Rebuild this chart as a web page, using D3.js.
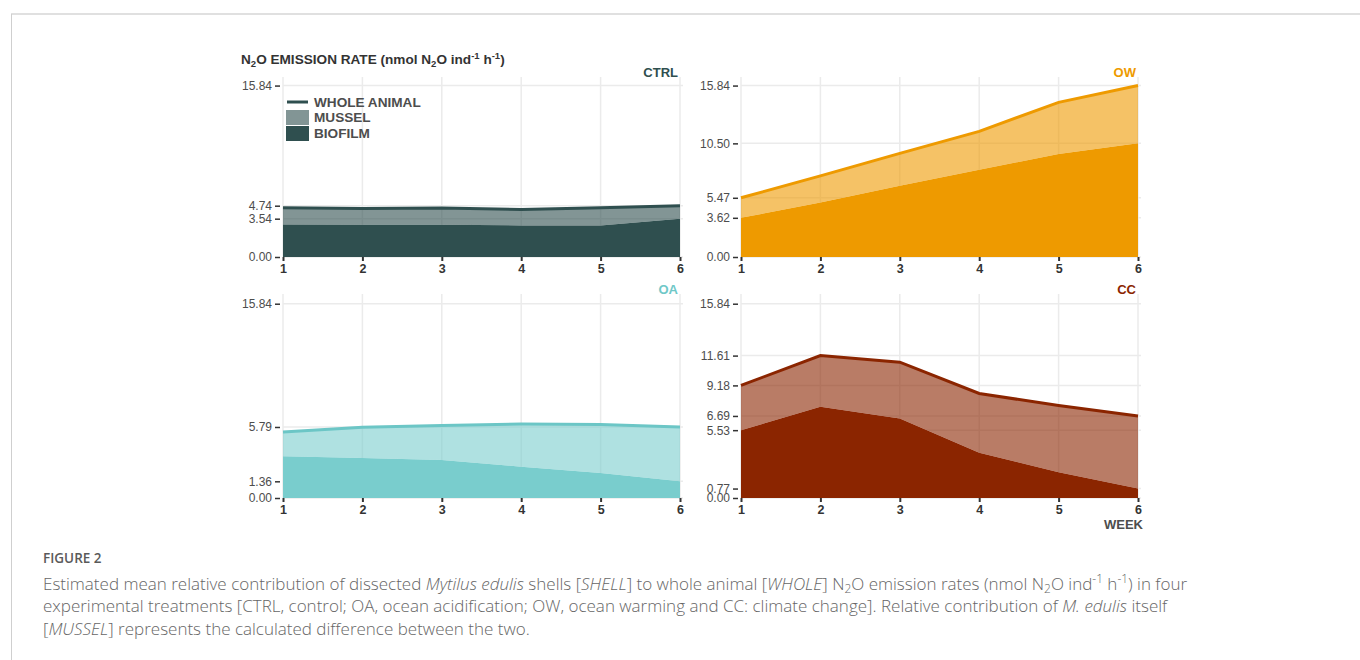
<!DOCTYPE html>
<html lang="en">
<head>
<meta charset="utf-8">
<title>N2O emission rates</title>
<style>
  body { margin: 0; background: #fff; }
</style>
</head>
<body>
<svg id="chart" width="1360" height="660"></svg>
<script src="https://cdn.jsdelivr.net/npm/d3@7"></script>
<script>
// data (nmol N2O ind-1 h-1)
const weeks = [1, 2, 3, 4, 5, 6];
const treatments = ["CTRL", "OW", "OA", "CC"];
const colors = ["#2F4F4F", "#EE9A00", "#79CDCD", "#8B2500"];

const wholeCTRL   = [4.56, 4.47, 4.53, 4.40, 4.55, 4.74];
const biofilmCTRL = [3.01, 2.99, 2.98, 2.92, 2.92, 3.54];
const wholeOW     = [5.47, 7.50, 9.57, 11.61, 14.29, 15.84];
const biofilmOW   = [3.62, 5.03, 6.58, 8.06, 9.51, 10.50];
const wholeOA     = [5.38, 5.76, 5.92, 6.03, 6.00, 5.79];
const biofilmOA   = [3.40, 3.26, 3.10, 2.55, 2.04, 1.36];
const wholeCC     = [9.18, 11.61, 11.07, 8.52, 7.54, 6.69];
const biofilmCC   = [5.53, 7.43, 6.48, 3.69, 2.10, 0.77];

const ticksCTRL = [0, 3.54, 4.74, 15.84];
const ticksOW   = [0, 3.62, 5.47, 10.50, 15.84];
const ticksOA   = [0, 1.36, 5.79, 15.84];
const ticksCC   = [0, 0.77, 5.53, 6.69, 9.18, 11.61, 15.84];

const legendLabels = ["WHOLE ANIMAL", "MUSSEL", "BIOFILM"];
const yMax = 15.84;

const wholes = [wholeCTRL, wholeOW, wholeOA, wholeCC];
const biofilms = [biofilmCTRL, biofilmOW, biofilmOA, biofilmCC];
const tickSets = [ticksCTRL, ticksOW, ticksOA, ticksCC];

// panel boxes: left, right, top, bottom
const boxes = [
  [283, 680, 77, 257],
  [741, 1138, 77, 257],
  [283, 680, 294, 498],
  [741, 1138, 294, 498]
];

const font = "'Liberation Sans', Arial, Helvetica, sans-serif";
const svg = d3.select("#chart");

// frame of the figure box
svg.append("line").attr("x1", 11).attr("x2", 1360).attr("y1", 14).attr("y2", 14)
  .attr("stroke", "#e0e0e0").attr("stroke-width", 2);
svg.append("line").attr("x1", 11.5).attr("x2", 11.5).attr("y1", 14).attr("y2", 660)
  .attr("stroke", "#cfcfcf").attr("stroke-width", 1);

// text with sub/superscripts and italics
function richText(sel, segs, size) {
  let shift = 0;
  segs.forEach(s => {
    let target = s.sub ? size * 0.22 : s.sup ? -size * 0.36 : 0;
    let ts = sel.append("tspan").text(s.t)
      .attr("dy", target - shift)
      .attr("font-size", (s.sub || s.sup) ? size * 0.7 : size);
    if (s.i) ts.attr("font-style", "italic");
    shift = target;
  });
}

treatments.forEach((name, k) => {
  let [x0, x1, y0, y1] = boxes[k];
  let x = d3.scaleLinear().domain([1, 6]).range([x0, x1]);
  let y = d3.scaleLinear().domain([0, yMax * 1.05]).range([y1, y0]);
  let g = svg.append("g");

  let rows = weeks.map((w, i) => ({ w: w, whole: wholes[k][i], bio: biofilms[k][i] }));

  // grid
  g.selectAll(".vg").data(weeks).enter().append("line")
    .attr("x1", d => x(d)).attr("x2", d => x(d)).attr("y1", y0).attr("y2", y1)
    .attr("stroke", "#ebebeb").attr("stroke-width", 1.5);
  g.selectAll(".hg").data(tickSets[k]).enter().append("line")
    .attr("x1", x0).attr("x2", x1 + 3).attr("y1", d => y(d)).attr("y2", d => y(d))
    .attr("stroke", "#ebebeb").attr("stroke-width", 1.5);

  // mussel = whole - biofilm, stacked on the biofilm
  g.append("path").datum(rows)
    .attr("d", d3.area().x(d => x(d.w)).y0(d => y(d.bio)).y1(d => y(d.whole)))
    .attr("fill", colors[k]).attr("fill-opacity", 0.6);
  g.append("path").datum(rows)
    .attr("d", d3.area().x(d => x(d.w)).y0(y(0)).y1(d => y(d.bio)))
    .attr("fill", colors[k]);
  g.append("path").datum(rows)
    .attr("d", d3.line().x(d => x(d.w)).y(d => y(d.whole)))
    .attr("fill", "none").attr("stroke", colors[k] === "#79CDCD" ? "#6cc6c6" : colors[k])
    .attr("stroke-width", 3);

  // y axis
  let yAxis = d3.axisLeft(y).tickValues(tickSets[k]).tickFormat(d3.format(".2f"))
    .tickSize(5).tickPadding(3);
  let ya = g.append("g").attr("transform", `translate(${x0 - 3},0)`).call(yAxis);
  ya.select(".domain").remove();
  ya.selectAll("line").attr("stroke", "#333").attr("stroke-width", 1.5);
  ya.selectAll("text").attr("fill", "#4d4d4d").attr("font-size", 12).attr("font-family", font);

  // x axis
  let xAxis = d3.axisBottom(x).tickValues(weeks).tickFormat(d3.format("d"))
    .tickSize(4).tickPadding(3);
  let xa = g.append("g").attr("transform", `translate(0,${y1})`).call(xAxis);
  xa.select(".domain").remove();
  xa.selectAll("line").attr("stroke", "#333").attr("stroke-width", 2);
  xa.selectAll("text").attr("fill", "#333").attr("font-size", 12.5)
    .attr("font-weight", "bold").attr("font-family", font);

  // panel title
  g.append("text").attr("x", x1 - 2).attr("y", y0)
    .attr("text-anchor", "end").attr("font-family", font).attr("font-weight", "bold")
    .attr("font-size", 13).attr("fill", colors[k] === "#79CDCD" ? "#6fc8c8" : colors[k])
    .text(name);
});

// y title
let yt = svg.append("text").attr("x", 241).attr("y", 64)
  .attr("font-family", font).attr("font-weight", "bold").attr("fill", "#333");
richText(yt, [
  { t: "N" }, { t: "2", sub: true }, { t: "O EMISSION RATE (nmol N" }, { t: "2", sub: true },
  { t: "O ind" }, { t: "-1", sup: true }, { t: " h" }, { t: "-1", sup: true }, { t: ")" }
], 13.6);

// x title
svg.append("text").attr("x", 1143).attr("y", 529).attr("text-anchor", "end")
  .attr("font-family", font).attr("font-weight", "bold").attr("font-size", 13)
  .attr("fill", "#4d4d4d").text("WEEK");

// legend
let lg = svg.append("g").attr("font-family", font).attr("font-weight", "bold")
  .attr("font-size", 13.6).attr("fill", "#4d4d4d");
lg.append("line").attr("x1", 287).attr("x2", 308).attr("y1", 102).attr("y2", 102)
  .attr("stroke", colors[0]).attr("stroke-width", 3);
lg.append("rect").attr("x", 286).attr("y", 110).attr("width", 23).attr("height", 15)
  .attr("fill", colors[0]).attr("fill-opacity", 0.6);
lg.append("rect").attr("x", 286).attr("y", 126).attr("width", 23).attr("height", 15)
  .attr("fill", colors[0]);
lg.selectAll(".lt").data(legendLabels).enter().append("text")
  .attr("x", 314).attr("y", (d, i) => [107, 122, 138][i]).text(d => d);

// caption
const capFont = "'Open Sans', Lato, sans-serif";
svg.append("text").attr("x", 43).attr("y", 563).attr("font-family", capFont)
  .attr("font-size", 13.5).attr("font-weight", 600).attr("fill", "#5a5a5a")
  .text("FIGURE 2");

const capLines = [
  [{ t: "Estimated mean relative contribution of dissected " }, { t: "Mytilus edulis", i: true },
   { t: " shells [" }, { t: "SHELL", i: true }, { t: "] to whole animal [" }, { t: "WHOLE", i: true },
   { t: "] N" }, { t: "2", sub: true }, { t: "O emission rates (nmol N" }, { t: "2", sub: true },
   { t: "O ind" }, { t: "-1", sup: true }, { t: " h" }, { t: "-1", sup: true }, { t: ") in four" }],
  [{ t: "experimental treatments [CTRL, control; OA, ocean acidification; OW, ocean warming and CC: climate change]. Relative contribution of " },
   { t: "M. edulis", i: true }, { t: " itself" }],
  [{ t: "[" }, { t: "MUSSEL", i: true }, { t: "] represents the calculated difference between the two." }]
];

capLines.forEach((segs, i) => {
  let t = svg.append("text").attr("x", 43).attr("y", 589.5 + i * 22.5)
    .attr("font-family", capFont).attr("font-weight", 300).attr("fill", "#666");
  richText(t, segs, 17);
});
</script>
</body>
</html>
